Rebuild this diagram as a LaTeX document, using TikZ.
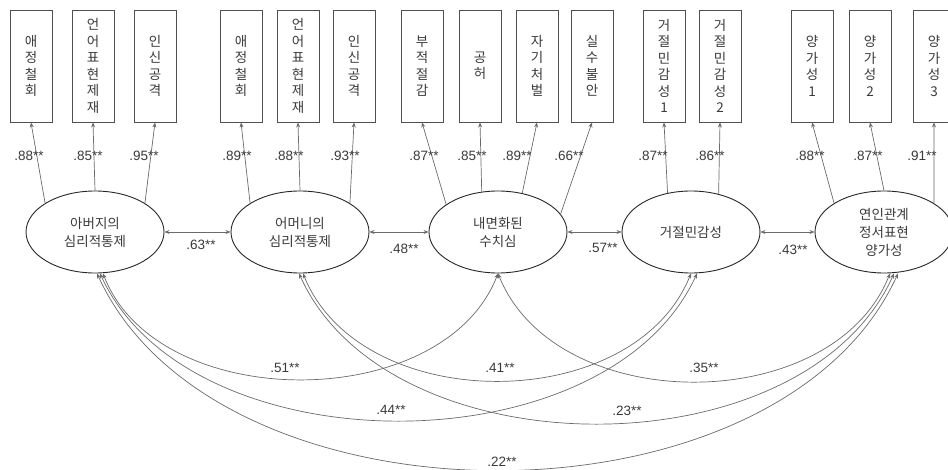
\documentclass[tikz,border=0pt]{standalone}
\usepackage{fontspec}
\setmainfont{Liberation Sans}
\newfontfamily\kr{Noto Sans CJK KR}
\usetikzlibrary{shapes.geometric,arrows.meta,calc}
\definecolor{ln}{HTML}{6A6A6A}
\definecolor{bd}{HTML}{505050}
\definecolor{tx}{HTML}{3A3A3A}
\begin{document}
\begin{tikzpicture}[x=1pt,y=-1pt,
  obs/.style={draw=bd,line width=0.9pt,minimum width=42pt,minimum height=112pt,inner sep=0pt,align=center,font=\kr\fontsize{13.5}{16.5}\selectfont,text=tx},
  lat/.style={ellipse,draw=black!85,line width=0.9pt,minimum width=138pt,minimum height=82pt,inner sep=0pt,align=center,font=\kr\fontsize{13.5}{18}\selectfont,text=tx},
  ld/.style={draw=ln,line width=0.7pt,-{Stealth[length=5pt,width=4pt]}},
  cv/.style={draw=ln,line width=0.7pt,{Stealth[length=5pt,width=4pt]}-{Stealth[length=5pt,width=4pt]}},
  num/.style={font=\fontsize{13.5}{15}\selectfont,text=tx,inner sep=0pt}
]
\useasboundingbox (0,0) rectangle (948,470);
% observed boxes
\node[obs] (b1) at (31,66) {애\\정\\철\\회};
\node[obs] (b2) at (93,66) {언\\어\\표\\현\\제\\재};
\node[obs] (b3) at (155,66) {인\\신\\공\\격};
\node[obs] (b4) at (241,66) {애\\정\\철\\회};
\node[obs] (b5) at (298,66) {언\\어\\표\\현\\제\\재};
\node[obs] (b6) at (354,66) {인\\신\\공\\격};
\node[obs] (b7) at (422,66) {부\\적\\절\\감};
\node[obs] (b8) at (480,66) {공\\허};
\node[obs] (b9) at (537,66) {자\\기\\처\\벌};
\node[obs] (b10) at (592,66) {실\\수\\불\\안};
\node[obs] (b11) at (664,66) {거\\절\\민\\감\\성\\1};
\node[obs] (b12) at (720,66) {거\\절\\민\\감\\성\\2};
\node[obs] (b13) at (812,66) {양\\가\\성\\1};
\node[obs] (b14) at (870,66) {양\\가\\성\\2};
\node[obs] (b15) at (934,66) {양\\가\\성\\3};
% latent
\node[lat] (e1) at (95,232) {아버지의\\심리적통제};
\node[lat] (e2) at (300,232) {어머니의\\심리적통제};
\node[lat] (e3) at (498,232) {내면화된\\수치심};
\node[lat] (e4) at (691,232) {거절민감성};
\node[lat] (e5) at (884,232) {연인관계\\정서표현\\양가성};
% loadings
\draw[ld] (e1.150) -- (b1.south);
\draw[ld] (e1.90) -- (b2.south);
\draw[ld] (e1.30) -- (b3.south);
\draw[ld] (e2.150) -- (b4.south);
\draw[ld] (e2.90) -- (b5.south);
\draw[ld] (e2.30) -- (b6.south);
\draw[ld] (e3.152) -- (b7.south);
\draw[ld] (e3.112) -- (b8.south);
\draw[ld] (e3.58) -- (b9.south);
\draw[ld] (e3.16) -- (b10.south);
\draw[ld] (e4.121) -- (b11.south);
\draw[ld] (e4.54) -- (b12.south);
\draw[ld] (e5.150) -- (b13.south);
\draw[ld] (e5.90) -- (b14.south);
\draw[ld] (e5.30) -- (b15.south);
% loading labels
\foreach \x/\t in {29/.88,88/.85,144/.95,237/.89,289/.88,345/.93,424/.87,472/.85,517/.89,569/.66,653/.87,710/.86,810/.88,868/.87,922/.91}
  \node[num] at (\x,156) {\t**};
% adjacent covariances
\draw[cv] (e1.east) -- (e2.west);
\draw[cv] (e2.east) -- (e3.west);
\draw[cv] (e3.east) -- (e4.west);
\draw[cv] (e4.east) -- (e5.west);
\node[num] (c1) at (201,245) {.63**};
\node[num] (c2) at (404,249) {.48**};
\node[num] (c3) at (603,248) {.57**};
\node[num] (c4) at (793,250) {.43**};
% curved covariances
\coordinate (p1a) at ($(e1.south)+(8,0)$);
\coordinate (p1b) at ($(e1.south)+(5,0)$);
\coordinate (p1c) at ($(e1.south)+(2,0)$);
\coordinate (p2a) at ($(e2.south)+(3,0)$);
\coordinate (p2b) at ($(e2.south)+(-1,0)$);
\coordinate (p3) at (e3.south);
\coordinate (p4a) at ($(e4.south)+(0,0)$);
\coordinate (p4b) at ($(e4.south)+(6,0)$);
\coordinate (p5a) at ($(e5.south)+(6,0)$);
\coordinate (p5b) at ($(e5.south)+(10,0)$);
\coordinate (p5c) at ($(e5.south)+(14,0)$);
\draw[cv] (p1a) .. controls +(55,141) and +(-55,141) .. (p3);
\draw[cv] (p1b) .. controls +(90,196) and +(-90,196) .. (p4b);
\draw[cv] (p1c) .. controls +(120,262) and +(-120,262) .. (p5c);
\draw[cv] (p2a) .. controls +(58,143) and +(-58,143) .. (p4a);
\draw[cv] (p2b) .. controls +(90,200) and +(-90,200) .. (p5b);
\draw[cv] (p3) .. controls +(58,144) and +(-58,144) .. (p5a);
\node[num] (k1) at (285,368) {.51**};
\node[num] (k2) at (500,368) {.41**};
\node[num] (k3) at (704,368) {.35**};
\node[num] (k4) at (391,410) {.44**};
\node[num] (k5) at (627,411) {.23**};
\node[num] (k6) at (502,462) {.22**};
\end{tikzpicture}
\end{document}
